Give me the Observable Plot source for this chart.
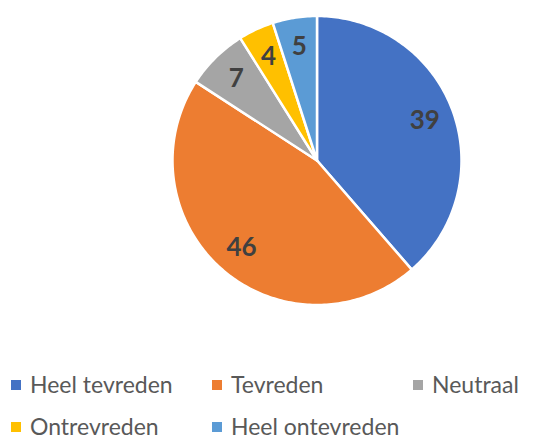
<!DOCTYPE html>
<html>
<head>
<meta charset="utf-8">
<script src="https://cdn.jsdelivr.net/npm/d3@7"></script>
<script src="https://cdn.jsdelivr.net/npm/@observablehq/plot@0.6"></script>
<style>
  body { margin: 0; background: #fff; }
  #wrap { position: relative; width: 547px; height: 441px; overflow: hidden; font-family: Lato, "Open Sans", sans-serif; }
  #legend .item { position: absolute; display: flex; align-items: flex-start; white-space: nowrap; color: #595959; font-size: 23px; height: 18px; }
  #legend .sw { display: block; width: 10px; height: 10px; margin-top: 5px; margin-right: 9px; }
  #legend .tx { display: block; line-height: 18px; height: 18px; }
</style>
</head>
<body>
<div id="wrap"><div id="chart"></div><div id="legend"></div></div>
<script>
const categories = ["Heel tevreden", "Tevreden", "Neutraal", "Ontrevreden", "Heel ontevreden"];
const values = [39, 46, 7, 4, 5];
const colors = ["#4472C4", "#ED7D31", "#A5A5A5", "#FFC000", "#5B9BD5"];

const W = 547, H = 320, cx = 316.5, cy = 160, R = 144.5, labelR = 115;

const arcs = d3.pie().sort(null).value(d => d.value)(categories.map((c, i) => ({cat: c, value: values[i]})));

const poly = [];
for (const a of arcs) {
  poly.push({cat: a.data.cat, x: 0, y: 0});
  const n = Math.max(4, Math.ceil((a.endAngle - a.startAngle) * 60));
  for (let k = 0; k <= n; k++) {
    const t = a.startAngle + (a.endAngle - a.startAngle) * k / n;
    poly.push({cat: a.data.cat, x: R * Math.sin(t), y: R * Math.cos(t)});
  }
  poly.push({cat: a.data.cat, x: 0, y: 0});
}
const labels = arcs.map(a => {
  const m = (a.startAngle + a.endAngle) / 2;
  return {cat: a.data.cat, value: a.data.value, x: labelR * Math.sin(m), y: labelR * Math.cos(m)};
});

const chart = Plot.plot({
  width: W, height: H, margin: 0,
  x: {domain: [-cx, W - cx], axis: null},
  y: {domain: [-(H - cy), cy], axis: null},
  color: {domain: categories, range: colors},
  marks: [
    Plot.line(poly, {x: "x", y: "y", z: "cat", fill: "cat", stroke: "white", strokeWidth: 2.5, curve: "linear"}),
    Plot.text(labels, {x: "x", y: "y", text: d => String(d.value), fill: "#404040", fontSize: 26, fontWeight: "bold", fontFamily: "Lato, 'Open Sans', sans-serif"})
  ]
});
document.getElementById("chart").appendChild(chart);

const pos = [[11, 375], [212, 375], [413, 375], [11, 417], [212, 417]];
const leg = document.getElementById("legend");
categories.forEach((c, i) => {
  const it = document.createElement("div");
  it.className = "item";
  it.style.left = pos[i][0] + "px";
  it.style.top = pos[i][1] + "px";
  const sw = document.createElement("span");
  sw.className = "sw";
  sw.style.background = colors[i];
  const tx = document.createElement("span");
  tx.className = "tx";
  tx.textContent = c;
  it.appendChild(sw); it.appendChild(tx);
  leg.appendChild(it);
});
</script>
</body>
</html>
